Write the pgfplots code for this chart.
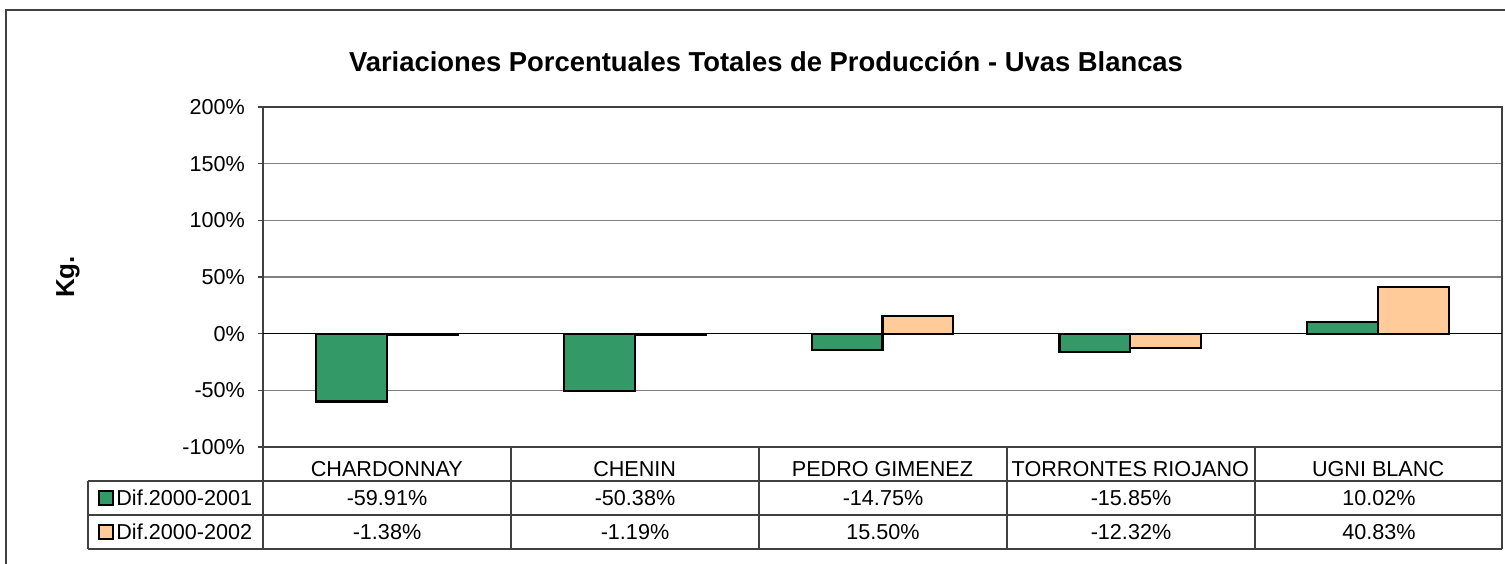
\documentclass[border=0pt]{standalone}
\usepackage{fontspec}
\setmainfont{Liberation Sans}
\usepackage{pgfplots}
\usepackage{pgfplotstable}
\pgfplotsset{compat=1.18}
\definecolor{verde}{HTML}{339966}
\definecolor{durazno}{HTML}{FFCC99}
\definecolor{grilla}{HTML}{808080}
\definecolor{linea}{HTML}{404040}

% variaciones porcentuales (%)
\pgfplotstableread{
x  d2001   d2002
0  -59.91  -1.38
1  -50.38  -1.19
2  -14.75  15.50
3  -15.85  -12.32
4  10.02   40.83
}\datos

\begin{document}
\begin{tikzpicture}[x=0.5pt,y=0.5pt]
% coordinates in pixels of the reference, y measured from the bottom
\path[use as bounding box] (0,0) rectangle (1505,563);
\draw[linea, line width=1pt] (6,-20) -- (6,553) -- (1540,553);

\node[font=\fontsize{13.7}{16}\selectfont\bfseries] at (766,501)
  {Variaciones Porcentuales Totales de Producción - Uvas Blancas};
\node[font=\fontsize{13}{15}\selectfont\bfseries, rotate=90] at (68,286) {Kg.};

\begin{axis}[
  at={(131.5pt,58pt)}, anchor=south west,
  scale only axis, width=619.5pt, height=170pt,
  font=\fontsize{10.8}{12}\selectfont,
  xmin=-0.5, xmax=4.5,
  ymin=-100, ymax=200,
  ybar=0pt, bar width=0.286,
  xtick=data,
  xticklabels={CHARDONNAY,CHENIN,PEDRO GIMENEZ,TORRONTES RIOJANO,UGNI BLANC},
  xtick style={draw=none},
  xticklabel style={anchor=center, yshift=-8.5pt},
  ytick={-100,-50,0,50,100,150,200},
  yticklabels={-100\%,-50\%,0\%,50\%,100\%,150\%,200\%},
  ytick pos=left, tick align=outside,
  major tick length=2.5pt,
  ytick style={linea, line width=0.6pt},
  yticklabel style={xshift=-3pt},
  ymajorgrids, grid style={grilla, line width=0.8pt},
  axis line style={linea, line width=0.9pt},
  clip=false,
]
\addplot[fill=verde, draw=black, line width=1.1pt] table[x=x, y=d2001] {\datos};
\addplot[fill=durazno, draw=black, line width=1.1pt] table[x=x, y=d2002] {\datos};
\draw[black, line width=0.7pt] (axis cs:-0.5,0) -- (axis cs:4.5,0);
\end{axis}

% data table below the chart
\begin{scope}[linea, line width=0.9pt]
  \draw (88,82) -- (1502,82);
  \draw (88,48) -- (1502,48);
  \draw (88,14) -- (1502,14);
  \draw (88,82) -- (88,14);
  \foreach \k in {0,...,4} {\draw ({263+248*\k},116) -- ({263+248*\k},14);}
  \draw (1502,116) -- (1502,14);
\end{scope}

\begin{scope}[font=\fontsize{10.8}{12}\selectfont]
  \draw[black, line width=1pt, fill=verde] (99,58) rectangle (113,72);
  \draw[black, line width=1pt, fill=durazno] (99,24) rectangle (113,38);
  \node[anchor=west, inner sep=0pt] at (116,65) {Dif.2000-2001};
  \node[anchor=west, inner sep=0pt] at (116,31) {Dif.2000-2002};
  \foreach \v [count=\i from 0] in {-59.91\%,-50.38\%,-14.75\%,-15.85\%,10.02\%}
    \node at ({387+248*\i},65) {\v};
  \foreach \v [count=\i from 0] in {-1.38\%,-1.19\%,15.50\%,-12.32\%,40.83\%}
    \node at ({387+248*\i},31) {\v};
\end{scope}
\end{tikzpicture}
\end{document}
